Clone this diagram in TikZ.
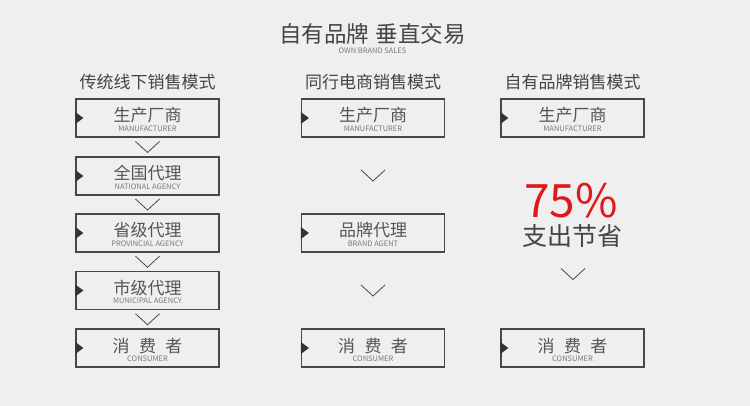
\documentclass[tikz,border=0pt]{standalone}
\usepackage{fontspec}
\setmainfont{Noto Sans CJK SC}
\usetikzlibrary{calc}
\definecolor{bg}{HTML}{EFEFEF}
\definecolor{boxc}{HTML}{484848}
\definecolor{txt}{HTML}{555555}
\definecolor{txtl}{HTML}{7A7A7A}
\definecolor{hdr}{HTML}{444444}
\definecolor{redc}{HTML}{E01818}
\tikzset{
  box/.style={draw=boxc, line width=1.2pt, minimum width=143pt, minimum height=38pt, inner sep=0pt},
  cn/.style={font=\fontsize{17}{17}\selectfont, text=txt, inner sep=0pt, anchor=base},
  en/.style={font=\fontsize{7.5}{7.5}\selectfont, text=txtl, inner sep=0pt, anchor=base},
  hdrtxt/.style={font=\fontsize{17}{17}\selectfont, text=hdr, inner sep=0pt, anchor=base},
  chev/.style={draw=boxc, line width=0.8pt},
  marker/.style={fill=black!80, draw=none},
}
\newcommand\chevat[1]{\draw[chev] (#1) ++(-12,-5.5) -- ++(12,11) -- ++(12,-11);}
\newcommand\markat[1]{\fill[marker] (#1) ++(0,-6) -- ++(8,6) -- ++(-8,6) -- cycle;}
\newcommand\boxlabels[3]{%
  \node[cn] (#1cn) at ($(#1.center)+(0,4)$) {#2};
  \node[en] (#1en) at ($(#1.center)+(0,13.3)$) {#3};
  \markat{#1.west}}
\begin{document}
\begin{tikzpicture}[x=1pt,y=-1pt]
\fill[bg] (0,0) rectangle (750,406);
\useasboundingbox (0,0) rectangle (750,406);
% title
\node[font=\fontsize{22.5}{22.5}\selectfont, text=hdr, inner sep=0pt, anchor=base] (title) at (372.5,43) {自有品牌\hspace{0.3em}垂直交易};
\node[font=\fontsize{7.5}{7.5}\selectfont, text=txtl, inner sep=0pt, anchor=base] (subtitle) at (372.5,53.5) {OWN BRAND SALES};
% headers
\node[hdrtxt] (h1) at (147.5,89) {传统线下销售模式};
\node[hdrtxt] (h2) at (373,89) {同行电商销售模式};
\node[hdrtxt] (h3) at (572.5,89) {自有品牌销售模式};
% left column
\node[box] (a1) at (147.5,118) {};
\node[box] (a2) at (147.5,176) {};
\node[box] (a3) at (147.5,233) {};
\node[box] (a4) at (147.5,290.5) {};
\node[box] (a5) at (147.5,348) {};
\boxlabels{a1}{生产厂商}{MANUFACTURER}
\boxlabels{a2}{全国代理}{NATIONAL AGENCY}
\boxlabels{a3}{省级代理}{PROVINCIAL AGENCY}
\boxlabels{a4}{市级代理}{MUNICIPAL AGENCY}
\boxlabels{a5}{消\hspace{0.55em}费\hspace{0.55em}者}{CONSUMER}
\coordinate (c12) at ($(a1.south)!0.5!(a2.north)$);
\coordinate (c23) at ($(a2.south)!0.5!(a3.north)$);
\coordinate (c34) at ($(a3.south)!0.5!(a4.north)$);
\coordinate (c45) at ($(a4.south)!0.5!(a5.north)$);
\chevat{c12}
\chevat{c23}
\chevat{c34}
\chevat{c45}
% middle column
\node[box] (b1) at (373,118) {};
\node[box] (b2) at (373,233) {};
\node[box] (b3) at (373,348) {};
\boxlabels{b1}{生产厂商}{MANUFACTURER}
\boxlabels{b2}{品牌代理}{BRAND AGENT}
\boxlabels{b3}{消\hspace{0.55em}费\hspace{0.55em}者}{CONSUMER}
\coordinate (d12) at ($(b1.south)!0.5!(b2.north)$);
\coordinate (d23) at ($(b2.south)!0.5!(b3.north)$);
\chevat{d12}
\chevat{d23}
% right column
\node[box] (r1) at (572.5,118) {};
\node[box] (r3) at (572.5,348) {};
\boxlabels{r1}{生产厂商}{MANUFACTURER}
\boxlabels{r3}{消\hspace{0.55em}费\hspace{0.55em}者}{CONSUMER}
\node[font=\fontsize{46}{46}\selectfont, text=redc, inner sep=0pt, anchor=base] (pct) at (571,218) {75\%};
\node[font=\fontsize{25}{25}\selectfont, text=hdr, inner sep=0pt, anchor=base] (save) at (572.5,246) {支出节省};
\coordinate (e1) at (573,274);
\chevat{e1}
\end{tikzpicture}
\end{document}
